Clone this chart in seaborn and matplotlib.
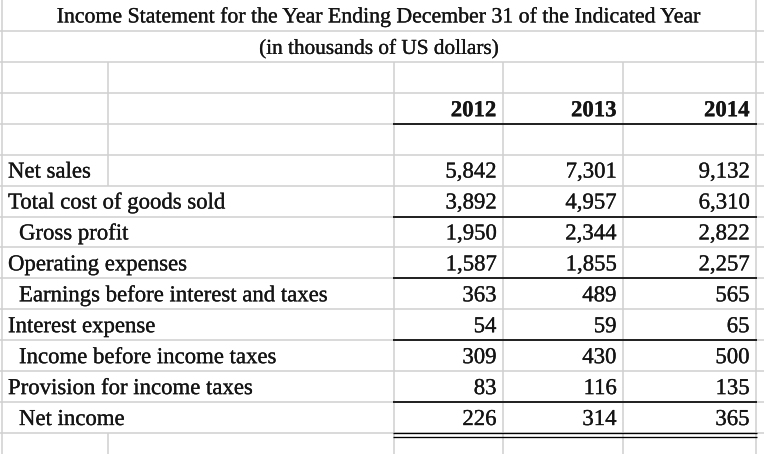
import numpy as np
import pandas as pd
import matplotlib
matplotlib.use("Agg")
import matplotlib.pyplot as plt
import matplotlib.patheffects as pe
import seaborn as sns

title = "Income Statement for the Year Ending December 31 of the Indicated Year"
subtitle = "(in thousands of US dollars)"
years = ["2012", "2013", "2014"]
line_items = ["Net sales", "Total cost of goods sold", "Gross profit",
              "Operating expenses", "Earnings before interest and taxes",
              "Interest expense", "Income before income taxes",
              "Provision for income taxes", "Net income"]
is_subtotal = [False, False, True, False, True, False, True, False, True]
values_2012 = [5842, 3892, 1950, 1587, 363, 54, 309, 83, 226]
values_2013 = [7301, 4957, 2344, 1855, 489, 59, 430, 116, 314]
values_2014 = [9132, 6310, 2822, 2257, 565, 65, 500, 135, 365]

df = pd.DataFrame({"item": line_items, "2012": values_2012,
                   "2013": values_2013, "2014": values_2014})

# --- layout (pixels of the sheet) ---
W, H = 764, 454
row_h = 30.93
col_edges = [2, 108, 394, 503, 623, 756]
first_item_row = 5
grid_col = "#d0d0d0"
ink = "#141414"

sns.set_theme(style="white")
plt.rcParams['font.family'] = 'serif'
plt.rcParams['font.serif'] = ['Liberation Serif', 'Times New Roman', 'DejaVu Serif']

# a thin stroke so the serif text looks as heavy as the screenshot
heavy = [pe.withStroke(linewidth=0.2, foreground=ink)]

fig = plt.figure(figsize=(W / 100, H / 100), dpi=100)
ax = fig.add_axes([0, 0, 1, 1])
ax.set_xlim(0, W)
ax.set_ylim(H, 0)
ax.axis("off")

def row_bottom(r):
    return (r + 1) * row_h

last_item_row = first_item_row + len(line_items) - 1

# gray gridlines
n_rows = int(H // row_h) + 1
for r in range(n_rows):
    ax.hlines(row_bottom(r), 0, W, color=grid_col, lw=1.1, zorder=1)
ax.vlines([col_edges[0], col_edges[-1]], 0, H, color=grid_col, lw=1.1, zorder=1)
ax.vlines(col_edges[2:5], row_bottom(1), H, color=grid_col, lw=1.1, zorder=1)
# the label split line only shows where the label text does not overflow
ax.vlines(col_edges[1], row_bottom(1), row_bottom(first_item_row), color=grid_col, lw=1.1, zorder=1)
ax.vlines(col_edges[1], row_bottom(last_item_row), H, color=grid_col, lw=1.1, zorder=1)

mid = (col_edges[0] + col_edges[-1]) / 2
ax.text(mid, row_bottom(0) - 8.5, title, ha="center", va="baseline", fontsize=15.7,
        color=ink, path_effects=heavy)
ax.text(mid, row_bottom(1) - 8.0, subtitle, ha="center", va="baseline", fontsize=15.3,
        color=ink, path_effects=heavy)

# year header
for j, yr in enumerate(years):
    ax.text(col_edges[j + 3] - 6.5, row_bottom(3) - 7.5, yr, ha="right", va="baseline",
            fontsize=16.4, fontweight="bold", color=ink, path_effects=heavy)

# body
for i, row in df.iterrows():
    r = first_item_row + i
    x_lab = 19 if is_subtotal[i] else 8
    ax.text(x_lab, row_bottom(r) - 8, row["item"], ha="left", va="baseline",
            fontsize=16.4, color=ink, path_effects=heavy)
    for j, yr in enumerate(years):
        ax.text(col_edges[j + 3] - 6.5, row_bottom(r) - 8, f"{row[yr]:,}", ha="right",
                va="baseline", fontsize=16.4, color=ink, path_effects=heavy)

# black accounting rules
x0, x1 = col_edges[2] - 1, col_edges[-1] + 1
ax.hlines(row_bottom(3), x0, x1, color="black", lw=1.2, zorder=3)
for i in [1, 3, 5, 7]:
    ax.hlines(row_bottom(first_item_row + i), x0, x1, color="black", lw=1.2, zorder=3)
y_last = row_bottom(last_item_row)
ax.hlines([y_last + 0.3, y_last + 3.6], x0, x1, color="black", lw=0.95, zorder=3)

fig.savefig("out.png", dpi=100, facecolor="white")
